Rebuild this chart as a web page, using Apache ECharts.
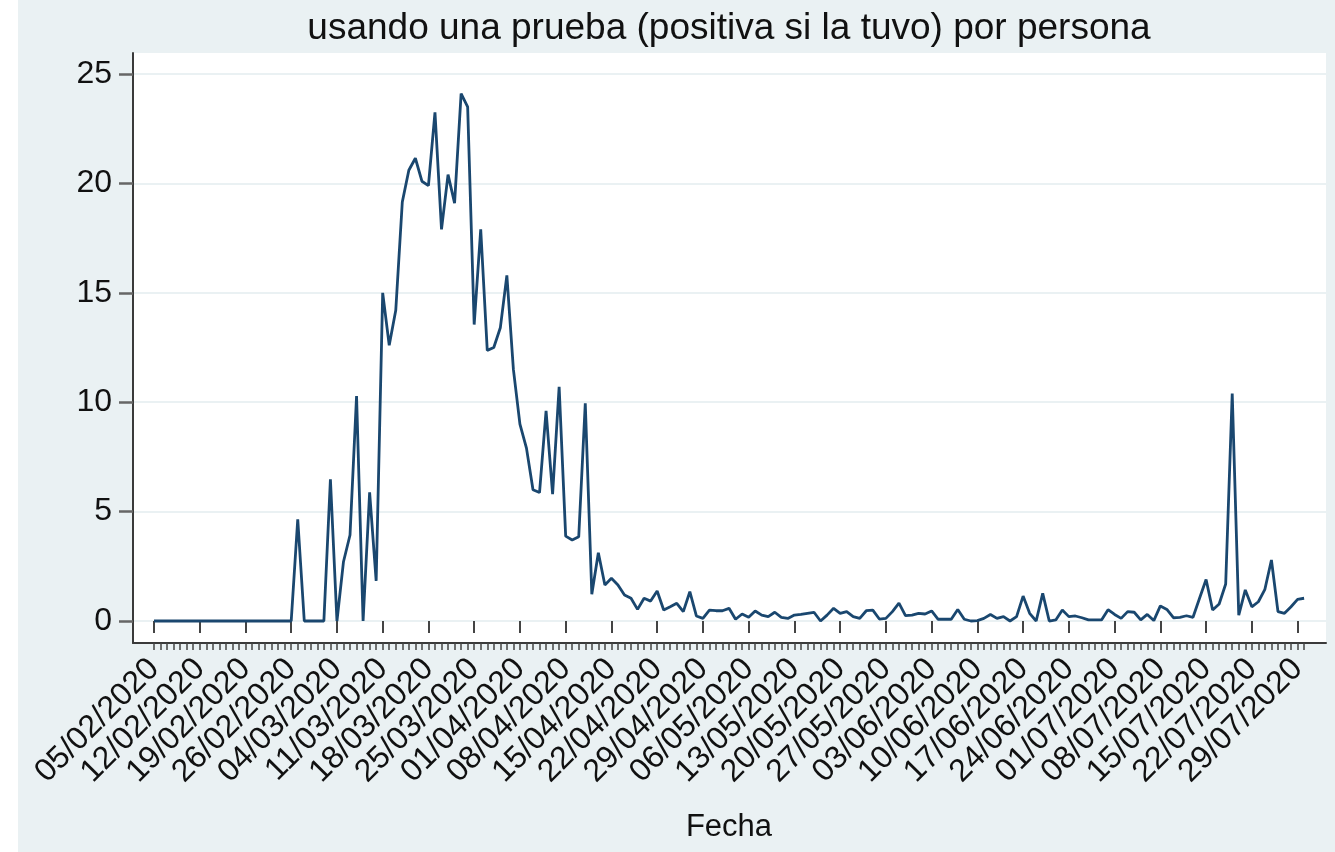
<!DOCTYPE html>
<html>
<head>
<meta charset="utf-8">
<title>Pruebas por persona</title>
<script src="https://cdn.jsdelivr.net/npm/echarts@6/dist/echarts.min.js"></script>
<style>
  html, body { margin: 0; padding: 0; background: #fff; }
  #main { width: 1335px; height: 852px; }
</style>
</head>
<body>
<div id="main"></div>
<script>
// etiquetas del eje x, una cada 7 dias desde el 05/02/2020
const fechas = [
  '05/02/2020', '12/02/2020', '19/02/2020', '26/02/2020', '04/03/2020', '11/03/2020',
  '18/03/2020', '25/03/2020', '01/04/2020', '08/04/2020', '15/04/2020', '22/04/2020',
  '29/04/2020', '06/05/2020', '13/05/2020', '20/05/2020', '27/05/2020', '03/06/2020',
  '10/06/2020', '17/06/2020', '24/06/2020', '01/07/2020', '08/07/2020', '15/07/2020',
  '22/07/2020', '29/07/2020'
]

// valor diario, del 05/02/2020 (dia 0) al 31/07/2020 (dia 176)
const valores = [
  0, 0, 0, 0, 0, 0, 0, 0, 0, 0, 0, 0, 0, 0, 0, 0, 0, 0, 0, 0, 0, 0,
  4.65, 0, 0, 0, 0, 6.48, 0, 2.71, 3.93, 10.28, 0, 5.88, 1.83,
  15.0, 12.6, 14.2, 19.15, 20.6, 21.15, 20.1, 19.9, 23.25, 17.9, 20.4, 19.1, 24.1, 23.5,
  13.55, 17.9, 12.37, 12.5, 13.4, 15.8, 11.5, 9.0, 7.9, 6.0, 5.87, 9.6, 5.8, 10.7,
  3.88, 3.7, 3.85, 9.95, 1.22, 3.12, 1.65, 1.95, 1.65, 1.19, 1.04, 0.53, 1.04, 0.91,
  1.37, 0.5, 0.65, 0.81, 0.43, 1.34, 0.23, 0.12, 0.5, 0.47, 0.47, 0.58, 0.08, 0.32,
  0.17, 0.46, 0.27, 0.2, 0.4, 0.17, 0.12, 0.27, 0.3, 0.35, 0.4, 0.0, 0.27, 0.58,
  0.35, 0.43, 0.2, 0.12, 0.47, 0.5, 0.09, 0.12, 0.43, 0.82, 0.25, 0.27, 0.35, 0.32,
  0.46, 0.08, 0.08, 0.08, 0.53, 0.08, 0, 0.02, 0.12, 0.3, 0.12, 0.2, 0, 0.2,
  1.14, 0.35, 0, 1.26, 0, 0.05, 0.5, 0.2, 0.23, 0.15, 0.05, 0.05, 0.05, 0.52,
  0.3, 0.12, 0.43, 0.4, 0.05, 0.3, 0.02, 0.69, 0.53, 0.15, 0.17, 0.24, 0.17,
  1.04, 1.9, 0.5, 0.78, 1.69, 10.4, 0.27, 1.42, 0.65, 0.88, 1.45, 2.79, 0.43,
  0.35, 0.65, 0.99, 1.04
]

// ticks del eje y
const yTicks = [0, 5, 10, 15, 20, 25]

const titulo = 'usando una prueba (positiva si la tuvo) por persona'
const ejeX = 'Fecha'

const fuente = 'Liberation Sans, Arial, Helvetica, sans-serif'
const fondo = '#eaf1f3'
const azul = '#1a476f'

const dias = valores.map((v, i) => i)
const semanas = fechas.map((f, i) => i * 7)

const chart = echarts.init(document.getElementById('main'), null, { renderer: 'canvas' })

const option = {
  backgroundColor: '#fff',
  animation: false,
  textStyle: { fontFamily: fuente },
  graphic: [
    {
      type: 'rect',
      z: -10,
      shape: { x: 18, y: 0, width: 1335 - 18, height: 852 },
      style: { fill: fondo }
    },
    {
      type: 'text',
      x: 729,
      y: 29,
      style: {
        text: titulo,
        align: 'center',
        verticalAlign: 'middle',
        font: '37px ' + fuente,
        fill: '#111'
      }
    },
    {
      type: 'text',
      x: 729,
      y: 827,
      style: {
        text: ejeX,
        align: 'center',
        verticalAlign: 'middle',
        font: '31px ' + fuente,
        fill: '#111'
      }
    }
  ],
  grid: {
    left: 133,
    right: 9,
    top: 53,
    bottom: 209,
    show: true,
    backgroundColor: '#fff',
    borderWidth: 0,
    containLabel: false
  },
  xAxis: [
    {
      // ticks menores diarios
      type: 'value',
      position: 'bottom',
      min: -3.21,
      max: 179.35,
      axisLine: { show: true, onZero: false, lineStyle: { color: '#3a3a3a', width: 2 } },
      axisTick: { show: true, customValues: dias, length: 7, lineStyle: { color: '#444', width: 1.5 } },
      axisLabel: { show: false },
      splitLine: { show: false }
    },
    {
      // ticks semanales con fechas
      type: 'value',
      position: 'bottom',
      min: -3.21,
      max: 179.35,
      axisLine: { show: false },
      axisTick: { show: true, customValues: semanas, length: 12, lineStyle: { color: '#444', width: 2 } },
      axisLabel: {
        show: true,
        customValues: semanas,
        rotate: 45,
        margin: 21,
        fontSize: 32,
        color: '#111',
        fontFamily: fuente,
        formatter: v => fechas[Math.round(v / 7)]
      },
      splitLine: { show: false }
    }
  ],
  yAxis: {
    type: 'value',
    min: -1.005,
    max: 25.96,
    axisLine: { show: true, onZero: false, lineStyle: { color: '#3a3a3a', width: 2 } },
    axisTick: { show: true, customValues: yTicks, length: 14, lineStyle: { color: '#666', width: 2.5 } },
    axisLabel: {
      customValues: yTicks,
      margin: 21,
      fontSize: 32,
      color: '#111',
      fontFamily: fuente
    },
    splitLine: { show: true, lineStyle: { color: fondo, width: 2 } }
  },
  series: [
    {
      type: 'line',
      xAxisIndex: 0,
      data: valores.map((v, i) => [dias[i], v]),
      showSymbol: false,
      symbol: 'none',
      lineStyle: { color: azul, width: 2.8 },
      clip: true
    }
  ]
}

chart.setOption(option)
</script>
</body>
</html>
